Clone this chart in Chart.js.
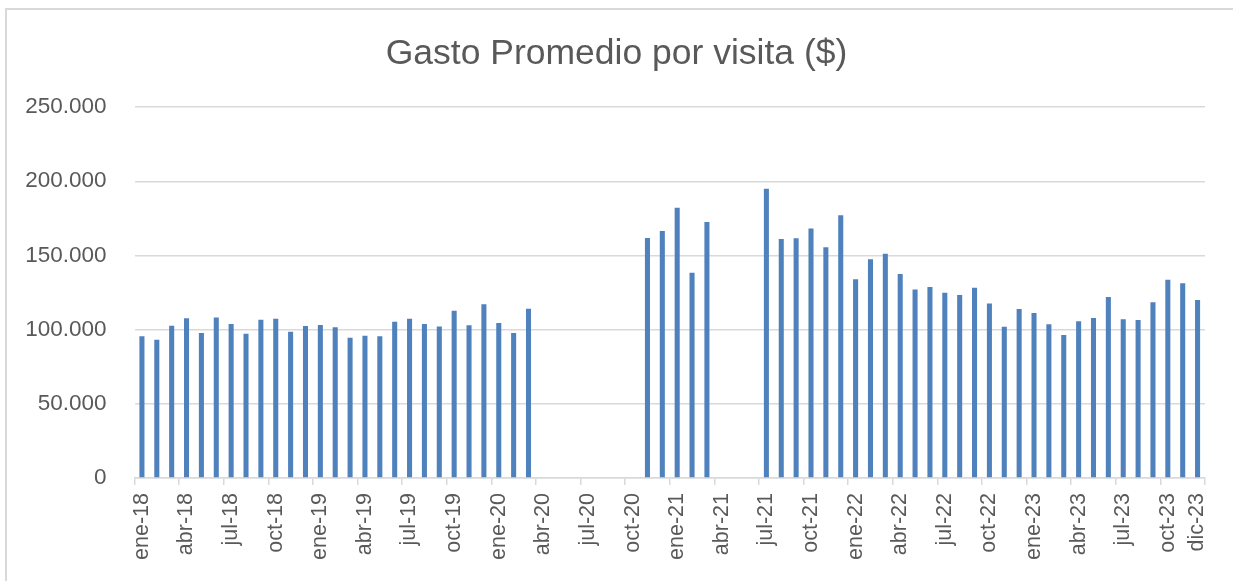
<!DOCTYPE html>
<html>
<head>
<meta charset="utf-8">
<script src="https://cdn.jsdelivr.net/npm/chart.js@4/dist/chart.umd.min.js"></script>
<style>
    body { margin: 0; background: #ffffff; overflow: hidden; }
    #wrap { position: relative; width: 1233px; height: 581px; }
    #frame {
        position: absolute; left: 5px; top: 8px; width: 1300px; height: 650px;
        border-left: 2px solid #d9d9d9; border-top: 2px solid #d9d9d9;
        pointer-events: none;
    }
</style>
</head>
<body>
<div id="wrap">
    <canvas id="gastoChart" width="1233" height="581"></canvas>
    <div id="frame"></div>
</div>
<script>
const months = ["ene", "feb", "mar", "abr", "may", "jun", "jul", "ago", "sep", "oct", "nov", "dic"];
const years = ["18", "19", "20", "21", "22", "23"];

// gasto promedio por visita, one value per month (null = no data)
const gasto2018 = [95500, 93200, 102700, 107600, 97700, 108100, 103800, 97300, 106700, 107400, 98600, 102500];
const gasto2019 = [103100, 101600, 94600, 95900, 95500, 105400, 107300, 103800, 102200, 112800, 102900, 117100];
const gasto2020 = [104500, 97700, 114100, null, null, null, null, null, null, null, 161800, 166500];
const gasto2021 = [182200, 138400, 172600, null, null, null, 195000, 161100, 161600, 168100, 155500, 177100];
const gasto2022 = [133900, 147400, 151200, 137500, 127000, 128800, 124900, 123400, 128300, 117700, 102000, 113900];
const gasto2023 = [111200, 103600, 96400, 105600, 107900, 122000, 107000, 106500, 118400, 133700, 131200, 120000];

const yTicks = [0, 50000, 100000, 150000, 200000, 250000];

const labels = [];
years.forEach(y => months.forEach(m => labels.push(m + "-" + y)));
const values = [].concat(gasto2018, gasto2019, gasto2020, gasto2021, gasto2022, gasto2023);

const textColor = '#595959';
const gridColor = '#d9d9d9';
const fontFamily = "'Liberation Sans', Arial, sans-serif";

function fmtMiles(v) {
    return String(v).replace(/\B(?=(\d{3})+(?!\d))/g, '.');
}

new Chart(document.getElementById('gastoChart'), {
    type: 'bar',
    data: {
        labels: labels,
        datasets: [{
            label: 'Gasto Promedio por visita ($)',
            data: values,
            backgroundColor: '#4f81bd',
            barPercentage: 0.34,
            categoryPercentage: 1.0,
        }]
    },
    options: {
        responsive: false,
        animation: false,
        layout: { padding: 0 },
        scales: {
            x: {
                offset: true,
                grid: {
                    offset: true,
                    drawOnChartArea: false,
                    drawTicks: true,
                    tickLength: 7,
                    lineWidth: 1.5,
                    // tick marks only every 3 months, plus the closing one
                    color: (ctx) => (ctx.index === undefined || ctx.index % 3 === 0) ? gridColor : 'rgba(0,0,0,0)',
                },
                border: { display: true, color: gridColor, width: 1.5 },
                ticks: {
                    autoSkip: false,
                    maxRotation: 90,
                    minRotation: 90,
                    padding: 8,
                    color: textColor,
                    font: { family: fontFamily, size: 21.5 },
                    callback: function(val, index) {
                        return (index % 3 === 0 || index === labels.length - 1) ? labels[index] : '';
                    }
                },
                afterFit: (scale) => { scale.height = 103; }
            },
            y: {
                min: 0,
                max: 250000,
                afterBuildTicks: (scale) => { scale.ticks = yTicks.map(v => ({ value: v })); },
                grid: { color: gridColor, lineWidth: 1.5, drawTicks: false },
                border: { display: false },
                ticks: {
                    padding: 28,
                    color: textColor,
                    font: { family: fontFamily, size: 22.5 },
                    callback: (v) => fmtMiles(v)
                },
                afterFit: (scale) => { scale.width = 134.5; }
            },
            // empty right-hand spacer so the title stays centred on the whole chart
            yRight: {
                position: 'right',
                display: true,
                min: 0,
                max: 250000,
                grid: { display: false },
                border: { display: false },
                ticks: { display: false },
                afterFit: (scale) => { scale.width = 28; }
            }
        },
        plugins: {
            legend: { display: false },
            tooltip: { enabled: false },
            title: {
                display: true,
                text: 'Gasto Promedio por visita ($)',
                color: textColor,
                font: { family: fontFamily, size: 35.5, weight: 'normal', lineHeight: 1.2 },
                padding: { top: 33, bottom: 31.5 }
            }
        }
    }
});
</script>
</body>
</html>
